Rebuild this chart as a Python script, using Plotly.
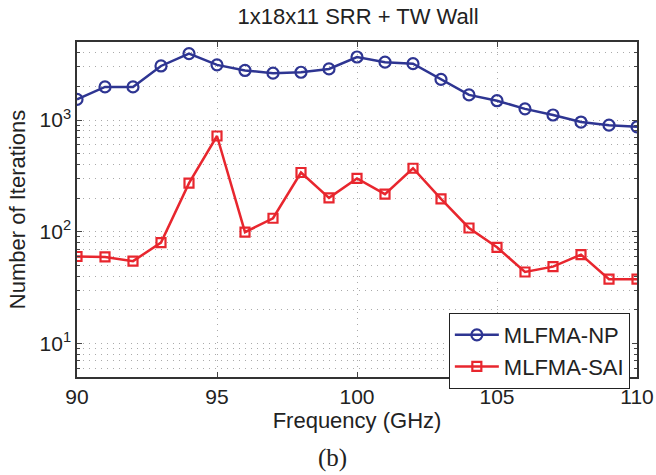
import plotly.graph_objects as go

freq = list(range(90, 111))
np_iters = [1530, 1980, 1980, 3050, 3940, 3120, 2780, 2630, 2680, 2870, 3670,
            3300, 3200, 2310, 1680, 1490, 1260, 1110, 960, 900, 870]
sai_iters = [60, 59.5, 54.5, 80, 272, 720, 99, 132, 339, 201, 300,
             217, 370, 197, 108, 72.5, 43.6, 48.7, 62.4, 37.6, 37.6]
ytickvals = [10, 100, 1000]
yticktext = ["10<sup>1</sup>", "10<sup>2</sup>", "10<sup>3</sup>"]
xtickvals = [90, 95, 100, 105, 110]

blue = "#2E3592"
red = "#E8262E"
font = "Liberation Sans, Arial, Helvetica, sans-serif"
griddash = "1px,5px"
gridcolor = "#aaa"

fig = go.Figure()
fig.add_trace(go.Scatter(x=freq, y=np_iters, mode="lines+markers", name="MLFMA-NP",
                         line=dict(color=blue, width=2.5),
                         marker=dict(symbol="circle-open", size=11, color=blue,
                                     line=dict(width=2.2, color=blue))))
fig.add_trace(go.Scatter(x=freq, y=sai_iters, mode="lines+markers", name="MLFMA-SAI",
                         line=dict(color=red, width=2.5),
                         marker=dict(symbol="square-open", size=9, color=red,
                                     line=dict(width=2.2, color=red))))

fig.update_layout(
    width=656, height=475,
    margin=dict(l=77, r=19, t=42, b=98),
    paper_bgcolor="white", plot_bgcolor="white",
    font=dict(family=font, size=21, color="#222"),
    title=dict(text="1x18x11 SRR + TW Wall", x=358 / 656, xanchor="center",
               y=1 - 16 / 475, yanchor="middle", font=dict(size=22, color="#222")),
    showlegend=True,
    legend=dict(x=0.664, y=0.191, xanchor="left", yanchor="top",
                bordercolor="#222", borderwidth=1, bgcolor="white",
                font=dict(size=22), tracegroupgap=0, itemwidth=44),
)
fig.update_xaxes(range=[90, 110], tickvals=xtickvals, ticks="inside", ticklen=5,
                 tickcolor="#444", showline=True, linecolor="#333", linewidth=1.5,
                 mirror="ticks", showgrid=True, gridcolor=gridcolor, griddash=griddash,
                 gridwidth=1, zeroline=False, automargin=False,
                 title=dict(text="Frequency (GHz)", standoff=1, font=dict(size=22)),
                 tickfont=dict(size=21))
fig.update_yaxes(type="log", range=[0.699, 3.699], tickvals=ytickvals, ticktext=yticktext,
                 ticks="inside", ticklen=5, tickcolor="#444", automargin=False,
                 showline=True, linecolor="#333", linewidth=1.5, mirror="ticks",
                 showgrid=True, gridcolor=gridcolor, griddash=griddash, gridwidth=1,
                 minor=dict(ticks="inside", ticklen=3, tickcolor="#444", showgrid=True,
                            gridcolor=gridcolor, griddash=griddash, gridwidth=1, dtick="D1"),
                 title=dict(text="Number of Iterations", standoff=8, font=dict(size=22)),
                 tickfont=dict(size=21))
fig.add_annotation(text="(b)", xref="paper", yref="paper", x=(332 - 77) / 560,
                   y=(377 - 458) / 335, xanchor="center", yanchor="middle", showarrow=False,
                   font=dict(family="Liberation Serif, Times New Roman, serif", size=25,
                             color="#222"))

fig.write_html("out.html")
